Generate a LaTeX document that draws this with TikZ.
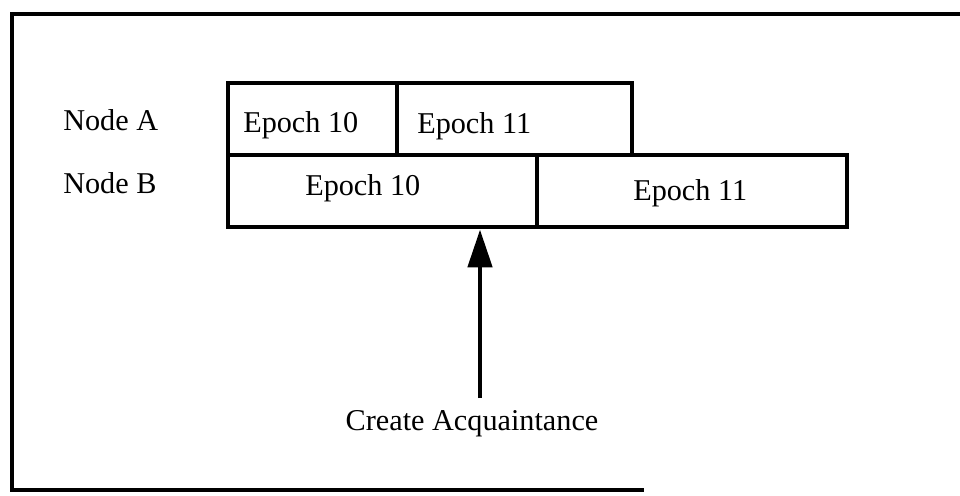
\documentclass[tikz,border=0pt]{standalone}
\usepackage{fontspec}
\setmainfont{Liberation Serif}
\usepackage{tikz}
\usetikzlibrary {arrows.meta}
\usetikzlibrary{calc}

\begin{document}
\begin{tikzpicture}[
	cell/.style={draw, line width=3.5pt, minimum height=1.8cm, inner sep=0},
	txt/.style={inner sep=0, anchor=base west, font=\fontsize{21.5}{26}\selectfont},
	frame/.style={line width=2.8pt}]
	\useasboundingbox (0, 0) rectangle (24, -12.375);
	\draw[frame] (24, -0.35) -- (0.3, -0.35) -- (0.3, -12.25) -- (16.1, -12.25);

	\node[txt] (nodeA) at (1.575, -3.25) {Node A};
	\node[txt] (nodeB) at (1.575, -4.825) {Node B};

	\node[cell, minimum width=4.225cm] (a1) at (7.8125, -2.975) {};
	\node[cell, minimum width=5.875cm] (a2) at (12.8625, -2.975) {};
	\node[cell, minimum width=7.725cm] (b1) at (9.5625, -4.775) {};
	\node[cell, minimum width=7.75cm] (b2) at (17.3, -4.775) {};

	\node[txt] (a1text) at (6.075, -3.3) {Epoch 10};
	\node[txt] (a2text) at (10.425, -3.325) {Epoch 11};
	\node[txt] (b1text) at (7.625, -4.875) {Epoch 10};
	\node[txt] (b2text) at (15.825, -5.0) {Epoch 11};

	\node[txt, anchor=base] (ack) at (11.8, -10.75) {Create Acquaintance};
	\coordinate (tail) at (12, -9.95);
	\draw[-{Triangle[length=0.95cm, width=0.6cm]}, line width=3.5pt] (tail) -- (tail |- b1.south);
\end{tikzpicture}
\end{document}
